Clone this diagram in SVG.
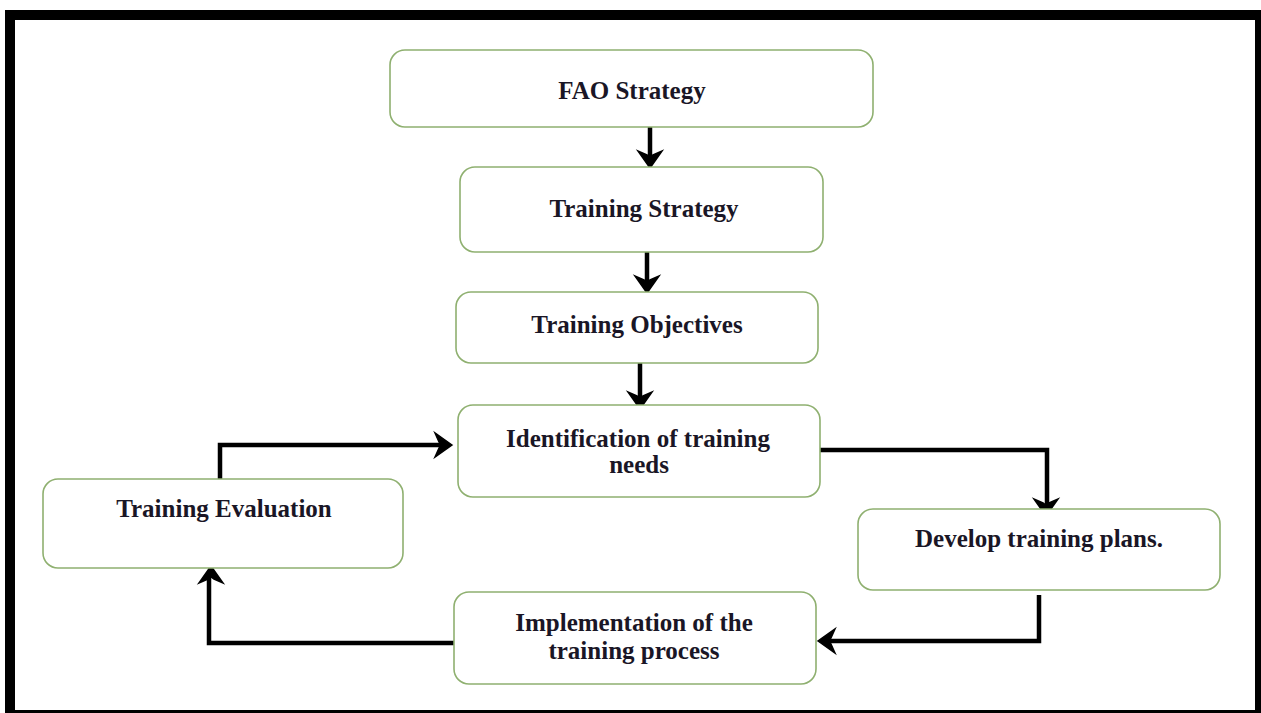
<svg xmlns="http://www.w3.org/2000/svg" width="1261" height="713" viewBox="0 0 1261 713">
  <style>
    .box { fill: #ffffff; stroke: #8fb070; stroke-width: 1.6; }
    .lbl { font-family: "Liberation Serif", "Times New Roman", serif; font-weight: bold; font-size: 25px; fill: #1a1626; text-anchor: middle; }
    .wire { fill: none; stroke: #000000; stroke-width: 4.5; stroke-linecap: butt; stroke-linejoin: miter; }
    .head { fill: #000000; stroke: #000000; stroke-width: 1.5; stroke-linejoin: miter; }
  </style>
  <defs>
    <!-- arrowhead pointing right, tip at origin -->
    <path id="ah" d="M0,0 L-17,-12 L-13,-3 L-11,0 L-13,3 L-17,12 Z"/>
  </defs>
  <rect x="0" y="0" width="1261" height="713" fill="#ffffff"/>
  <!-- frame -->
  <path d="M5,10 H1261 V713 H5 Z M15,20 V710 H1255 V20 Z" fill="#000000" fill-rule="evenodd"/>

  <g id="connectors">
    <!-- FAO -> Training Strategy -->
    <line class="wire" x1="650" y1="123" x2="650" y2="160"/>
    <use href="#ah" class="head" transform="translate(650,168) rotate(90)"/>
    <!-- Training Strategy -> Objectives -->
    <line class="wire" x1="647" y1="247" x2="647" y2="285"/>
    <use href="#ah" class="head" transform="translate(647,293) rotate(90)"/>
    <!-- Objectives -> Identification -->
    <line class="wire" x1="640" y1="363" x2="640" y2="401"/>
    <use href="#ah" class="head" transform="translate(640,409) rotate(90)"/>
    <!-- Identification -> Develop -->
    <polyline class="wire" points="820,450 1047,450 1047,508"/>
    <use href="#ah" class="head" transform="translate(1046,516) rotate(90)"/>
    <!-- Develop -> Implementation -->
    <polyline class="wire" points="1039,595 1039,641 826,641"/>
    <use href="#ah" class="head" transform="translate(818,641) rotate(180)"/>
    <!-- Implementation -> Evaluation -->
    <polyline class="wire" points="462,643 209,643 209,573"/>
    <use href="#ah" class="head" transform="translate(211,566) rotate(-90)"/>
    <!-- Evaluation -> Identification -->
    <polyline class="wire" points="220,479 220,445 444,445"/>
    <use href="#ah" class="head" transform="translate(452,445)"/>
  </g>

  <g id="fao-strategy">
    <rect class="box" x="390" y="50" width="483" height="77" rx="15"/>
    <text class="lbl" x="632" y="99">FAO Strategy</text>
  </g>
  <g id="training-strategy">
    <rect class="box" x="460" y="167" width="363" height="85" rx="15"/>
    <text class="lbl" x="644" y="217">Training Strategy</text>
  </g>
  <g id="training-objectives">
    <rect class="box" x="456" y="292" width="362" height="71" rx="15"/>
    <text class="lbl" x="637" y="333">Training Objectives</text>
  </g>
  <g id="identification">
    <rect class="box" x="458" y="405" width="362" height="92" rx="15"/>
    <text class="lbl" x="638" y="447">Identification of training</text>
    <text class="lbl" x="639" y="473">needs</text>
  </g>
  <g id="develop-plans">
    <rect class="box" x="858" y="509" width="362" height="81" rx="15"/>
    <text class="lbl" x="1039" y="547">Develop training plans.</text>
  </g>
  <g id="implementation">
    <rect class="box" x="454" y="592" width="362" height="92" rx="15"/>
    <text class="lbl" x="634" y="631">Implementation of the</text>
    <text class="lbl" x="634" y="659">training process</text>
  </g>
  <g id="training-evaluation">
    <rect class="box" x="43" y="479" width="360" height="89" rx="15"/>
    <text class="lbl" x="224" y="517">Training Evaluation</text>
  </g>
</svg>
